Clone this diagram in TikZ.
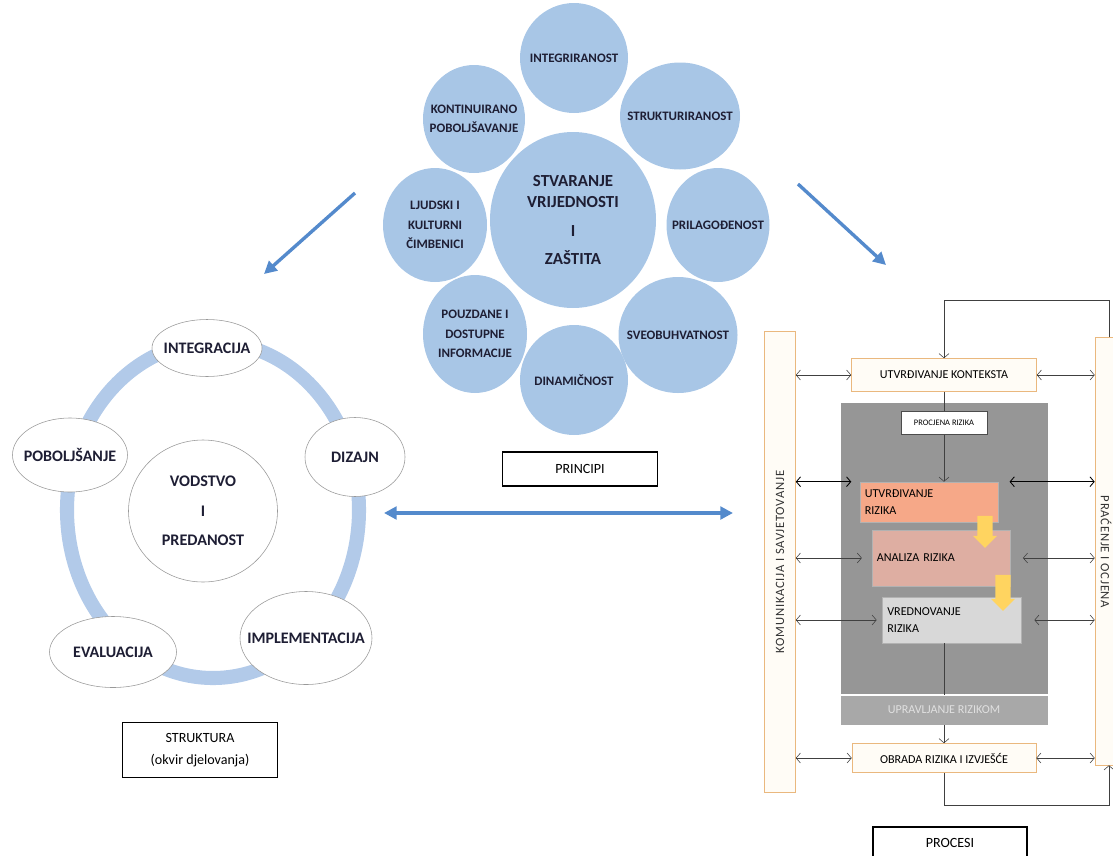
\documentclass[tikz,border=0pt]{standalone}
\usepackage{fontspec}
\setmainfont{Carlito}
\usetikzlibrary{shapes.geometric,shapes.arrows,arrows.meta,positioning}

\definecolor{princblue}{RGB}{168,198,230}
\definecolor{ringblue}{RGB}{178,202,233}
\definecolor{arrowblue}{RGB}{84,138,204}
\definecolor{edgetan}{RGB}{234,184,126}
\definecolor{creamfill}{RGB}{255,252,246}
\definecolor{panelgray}{RGB}{150,150,150}
\definecolor{bandgray}{RGB}{168,168,168}
\definecolor{riskorange}{RGB}{246,168,136}
\definecolor{riskpink}{RGB}{222,174,162}
\definecolor{riskgray}{RGB}{216,216,216}
\definecolor{hintyellow}{RGB}{255,212,96}
\definecolor{inkblue}{RGB}{30,30,52}

\tikzset{
  sz/.style 2 args={minimum width=#1*0.025cm, minimum height=#2*0.025cm},
  princ/.style={ellipse, fill=princblue, inner xsep=-14pt, inner ysep=-10pt, align=center, text=inkblue,
    font=\bfseries\fontsize{9.2}{13.8}\selectfont},
  part/.style={ellipse, draw=gray!80, fill=white, inner xsep=-14pt, inner ysep=-6pt, align=center, text=inkblue,
    font=\bfseries\fontsize{11.4}{21}\selectfont},
  caption/.style={draw, thick, fill=white, inner sep=0pt, align=center,
    font=\fontsize{10}{15.5}\selectfont},
  procbox/.style={draw=edgetan, fill=creamfill, inner sep=0pt,
    font=\fontsize{8.6}{12}\selectfont},
  riskbox/.style={draw=gray!60, inner xsep=0.12cm, inner ysep=0pt, align=left,
    font=\fontsize{8.6}{12.5}\selectfont},
  bar/.style={draw=edgetan, fill=creamfill, inner sep=0pt},
  bartext/.style={font=\fontsize{9}{10}\selectfont\addfontfeature{LetterSpace=6}, text=black!80},
  dbl/.style={{Straight Barb[length=3pt,width=7pt]}-{Straight Barb[length=3pt,width=7pt]}, black!75},
  flow/.style={black!75},
  bigarrow/.style={-{Triangle[length=9pt,width=9pt]}, arrowblue, line width=2.4pt},
  hint/.style={single arrow, fill=hintyellow, rotate=-90, inner xsep=0pt, inner ysep=0.17cm,
    single arrow head extend=0.1cm},
}

\begin{document}
\begin{tikzpicture}[x=0.025cm, y=-0.025cm]
\useasboundingbox (0,0) rectangle (1113,856);
\clip (0,0) rectangle (1113,856);

% principi
\node[princ, sz={108}{110}] (integ) at (574,58) {INTEGRIRANOST};
\node[princ, sz={120}{107}] (struk) at (680,116) {STRUKTURIRANOST};
\node[princ, sz={102}{108}] (kont) at (474,119) {KONTINUIRANO\\POBOLJŠAVANJE};
\node[princ, sz={104}{114}] (ljud) at (435,225) {LJUDSKI I\\KULTURNI\\ČIMBENICI};
\node[princ, sz={103}{114}] (prila) at (718,225) {PRILAGOĐENOST};
\node[princ, sz={104}{118}] (pouz) at (475,334) {POUZDANE I\\DOSTUPNE\\INFORMACIJE};
\node[princ, sz={119}{116}] (sveo) at (678,335) {SVEOBUHVATNOST};
\node[princ, sz={108}{110}] (dina) at (574,380) {DINAMIČNOST};
\node[princ, sz={166}{176}, font=\bfseries\fontsize{12}{15}\selectfont] (stvar) at (573,220)
  {STVARANJE\\VRIJEDNOSTI\\[5pt]I\\[5pt]ZAŠTITA};
\node[caption, sz={155}{34}] (princ) at (580,469) {PRINCIPI};

\coordinate (la1) at (355,193);
\coordinate (la2) at (264,274);
\coordinate (ra1) at (798,184);
\coordinate (ra2) at (886,265);
\coordinate (ma1) at (384,513);
\coordinate (ma2) at (733,513);
\draw[bigarrow] (la1) -- (la2);
\draw[bigarrow] (ra1) -- (ra2);
\draw[bigarrow, {Triangle[length=9pt,width=9pt]}-{Triangle[length=9pt,width=9pt]}] (ma1) -- (ma2);

% struktura
\draw[ringblue, line width=10pt] (213,510) ellipse [x radius=146*0.025cm, y radius=168*0.025cm];
\node[part, sz={110}{57}] (integr) at (207,348) {INTEGRACIJA};
\node[part, sz={115}{74}] (pobol) at (70,455) {POBOLJŠANJE};
\node[part, sz={100}{79}] (dizajn) at (355,457) {DIZAJN};
\node[part, sz={149}{142}, font=\bfseries\fontsize{11.5}{21}\selectfont] (vodstvo) at (203,511)
  {VODSTVO\\I\\PREDANOST};
\node[part, sz={132}{93}] (impl) at (306,638) {IMPLEMENTACIJA};
\node[part, sz={127}{71}] (eval) at (113,652) {EVALUACIJA};
\node[caption, sz={155}{55}] (strukt) at (200,750) {STRUKTURA\\(okvir djelovanja)};

% procesi
\node[bar, sz={31}{461}] (lbar) at (780,562) {};
\node[bartext, rotate=90] at (lbar) {KOMUNIKACIJA I SAVJETOVANJE};
\node[bar, sz={40}{428}] (rbar) at (1115,551) {};
\node[bartext, rotate=-90] at (1106,552) {PRAĆENJE I OCJENA};

\node[procbox, sz={185}{33}] (ctx) at (944,375) {UTVRĐIVANJE KONTEKSTA};
\node[fill=panelgray, inner sep=0pt, sz={207}{322}] (panel) at (944,564) {};
\node[fill=bandgray, inner sep=0pt, sz={207}{30}, text=black!12,
  font=\fontsize{8.6}{10}\selectfont] (band) at (944,710) {UPRAVLJANJE RIZIKOM};
\draw[white, line width=1.5pt] (band.north west) -- (band.north east);
\node[draw=black!70, fill=white, inner sep=0pt, sz={86}{23},
  font=\fontsize{6}{7}\selectfont] (proc) at (944,423) {PROCJENA RIZIKA};
\node[riskbox, fill=riskorange, text width=3.21cm, minimum height=40*0.025cm] (rid) at (929,502)
  {UTVRĐIVANJE\\RIZIKA};
\node[riskbox, fill=riskpink, text width=3.21cm, minimum height=56*0.025cm] (ana) at (941,558)
  {ANALIZA RIZIKA};
\node[riskbox, fill=riskgray, text width=3.23cm, minimum height=46*0.025cm] (vred) at (952,620)
  {VREDNOVANJE\\RIZIKA};
\node[hint, minimum height=32*0.025cm, minimum width=24*0.025cm] (hint1) at (985,528) {};
\node[hint, minimum height=36*0.025cm, minimum width=24*0.025cm] (hint2) at (1003,589) {};
\node[procbox, sz={184}{29}] (obr) at (944,758) {OBRADA RIZIKA I IZVJEŠĆE};
\node[caption, sz={154}{32}] (procesi) at (950,843) {PROCESI};

\draw[flow] (ctx.south) -- (proc.north);
\draw[flow, -{Straight Barb[length=3pt,width=7pt]}] (proc.south) -- (proc.south |- rid.north);
\draw[flow] (band.north |- vred.south) -- (band.north);
\draw[flow, -{Straight Barb[length=3pt,width=7pt]}] (band.south) -- (obr.north);

\coordinate (looptop) at (1109,300);
\coordinate (loopbot) at (1109,805);
\draw[flow, -{Straight Barb[length=3pt,width=7pt]}] (looptop |- rbar.north) -- (looptop) -| (ctx.north);
\draw[flow, -{Straight Barb[length=3pt,width=7pt]}] (obr.south) |- (loopbot) -- (loopbot |- rbar.south);

\draw[dbl] (lbar.east |- ctx.west) -- (ctx.west);
\draw[dbl] (ctx.east) -- (rbar.west |- ctx.east);
\draw[dbl, black, semithick] (lbar.east |- rid.north west) -- ([xshift=-6pt]rid.north west);
\draw[dbl, black, semithick] ([xshift=8pt]rid.north east) -- (rbar.west |- rid.north east);
\draw[dbl] (lbar.east |- ana.west) -- ([xshift=-7pt]ana.west);
\draw[dbl] ([xshift=9pt]ana.east) -- (rbar.west |- ana.east);
\draw[dbl] (lbar.east |- vred.west) -- ([xshift=-4pt]vred.west);
\draw[dbl] ([xshift=9pt]vred.east) -- (rbar.west |- vred.east);
\draw[dbl] (lbar.east |- obr.west) -- (obr.west);
\draw[dbl] (obr.east) -- (rbar.west |- obr.east);
\end{tikzpicture}
\end{document}
